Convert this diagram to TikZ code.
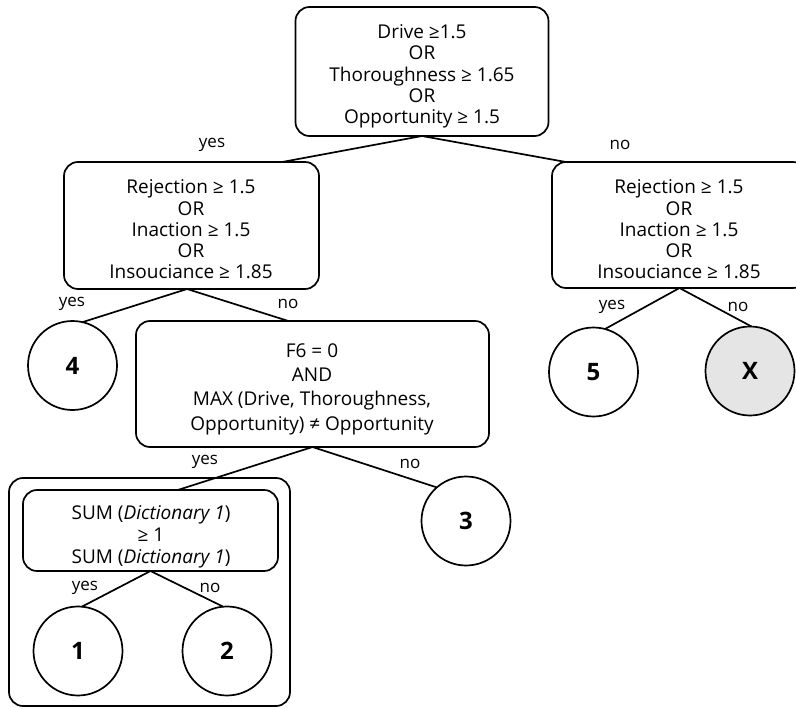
\documentclass[tikz,border=0pt]{standalone}
\usepackage{fontspec}
\setmainfont{Open Sans}
\begin{document}
\begin{tikzpicture}[x=1pt,y=-1pt,
  line width=1.7pt,
  every node/.style={inner sep=0pt, outer sep=0pt},
  txt/.style={font=\fontsize{19}{21.3}\selectfont, align=center},
  cond/.style={draw, rounded corners=14pt},
  leaf/.style={draw, circle, minimum size=89pt, font=\fontsize{24}{26}\selectfont\bfseries},
  ans/.style={font=\fontsize{17}{18}\selectfont}
]
\useasboundingbox (0,0) rectangle (796,709);

% group frame around the dictionary test
\draw[rounded corners=14pt] (9,478) rectangle (290,706);

% decision boxes
\node[cond, minimum width=253pt, minimum height=129pt] (top) at (422,71.5) {};
\node[cond, minimum width=255pt, minimum height=127pt] (lbox) at (191.5,225.5) {};
\node[cond, minimum width=255pt, minimum height=126pt] (rbox) at (679.5,225) {};
\node[cond, minimum width=353pt, minimum height=126pt] (f6) at (312.5,384) {};
\node[cond, minimum width=255pt, minimum height=81pt] (sum) at (150.5,530.5) {};

% their conditions
\node[txt] (topt) at (422,76.5)
  {Drive ≥1.5\\OR\\Thoroughness ≥ 1.65\\OR\\Opportunity ≥ 1.5};
\node[txt] (lboxt) at (191,229.5)
  {Rejection ≥ 1.5\\OR\\Inaction ≥ 1.5\\OR\\Insouciance ≥ 1.85};
\node[txt] (rboxt) at (679,229.5)
  {Rejection ≥ 1.5\\OR\\Inaction ≥ 1.5\\OR\\Insouciance ≥ 1.85};
\node[txt, font=\fontsize{19}{24.3}\selectfont] (f6t) at (312,389)
  {F6 = 0\\AND\\MAX (Drive, Thoroughness,\\Opportunity) ≠ Opportunity};
\node[txt, font=\fontsize{19}{22}\selectfont] (sumt) at (151,536.5)
  {SUM (\textit{Dictionary 1})\\≥ 1\\SUM (\textit{Dictionary 1})};

% outcome circles
\node[leaf] (c4) at (72.5,365.5) {4};
\node[leaf] (c5) at (593.5,372) {5};
\node[leaf, fill=black!10] (cx) at (750,371) {X};
\node[leaf] (c3) at (466,521) {3};
\node[leaf] (c1) at (78,651) {1};
\node[leaf] (c2) at (227,651) {2};

% branches
\draw (top.south) -- (lbox.35.7);
\draw (top.south) -- (rbox.151.2);
\draw (lbox.266) -- (c4.77);
\draw (lbox.266) -- (f6.111.3);
\draw (rbox.south) -- (c5.75);
\draw (rbox.south) -- (cx.88);
\draw (f6.south) -- (sum.56.8);
\draw (f6.south) -- (c3.131);
\draw (sum.south) -- (c1.85);
\draw (sum.south) -- (c2.95);

% branch labels
\node[ans] (l1) at (212,145) {yes};
\node[ans] (l2) at (620,145) {no};
\node[ans] (l3) at (72,304) {yes};
\node[ans] (l4) at (288,304) {no};
\node[ans] (l5) at (612,307) {yes};
\node[ans] (l6) at (738,307) {no};
\node[ans] (l7) at (205,462) {yes};
\node[ans] (l8) at (410,464) {no};
\node[ans] (l9) at (85,588) {yes};
\node[ans] (l10) at (210,588) {no};
\end{tikzpicture}
\end{document}
